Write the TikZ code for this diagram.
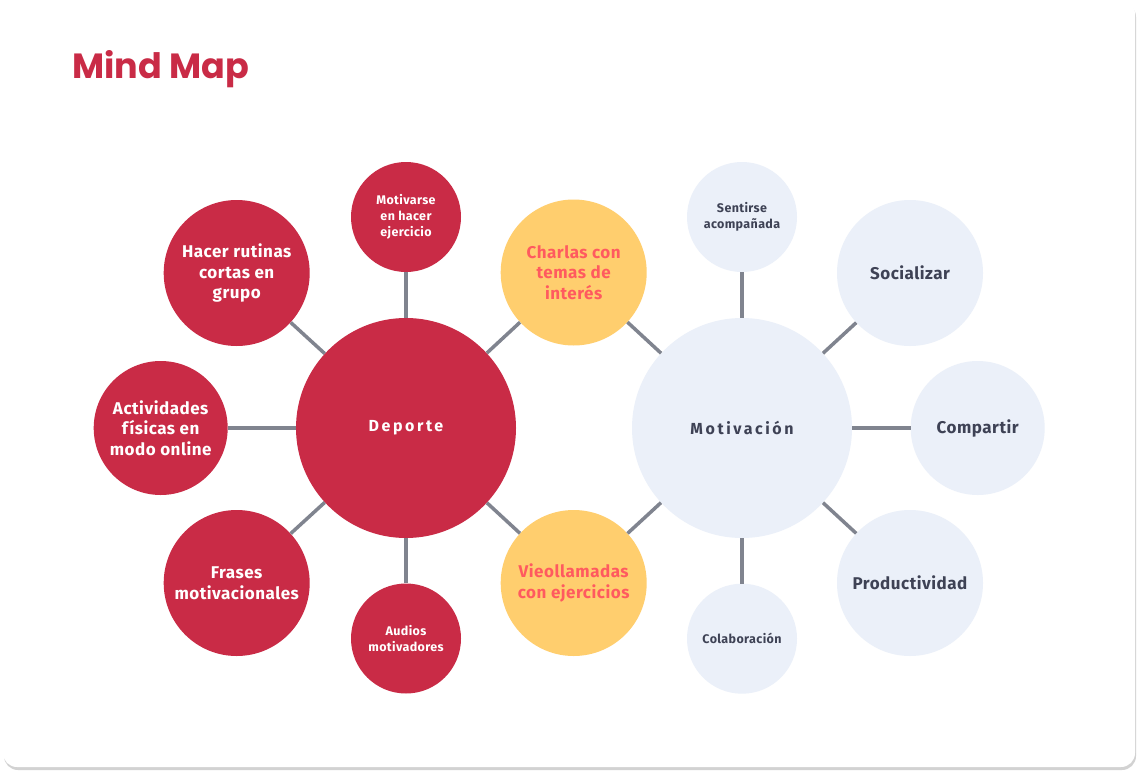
\documentclass[tikz,border=0pt]{standalone}
\usepackage{fontspec}
\setmainfont{Fira Sans}
\newfontfamily\titlefont{Poppins}
\usepackage{tikz}
\usetikzlibrary{positioning,shadows}

\definecolor{mapred}{HTML}{C92B46}
\definecolor{mapyellow}{HTML}{FFCE6E}
\definecolor{mapcoral}{HTML}{FF5A5F}
\definecolor{mapblue}{HTML}{EBF0F9}
\definecolor{mapink}{HTML}{3E4255}
\definecolor{mapline}{HTML}{80848F}

\tikzset{
  bubble/.style={circle,inner sep=0pt,align=center},
  redbub/.style={bubble,fill=mapred,text=white},
  yelbub/.style={bubble,fill=mapyellow,text=mapcoral},
  bluebub/.style={bubble,fill=mapblue,text=mapink},
  big/.style={minimum size=220pt,font=\bfseries\fontsize{16}{20}\selectfont\addfontfeatures{LetterSpace=16}},
  mid/.style={minimum size=146pt,font=\bfseries\fontsize{17}{20.5}\selectfont\addfontfeatures{LetterSpace=3}},
  side/.style={minimum size=134pt,font=\bfseries\fontsize{17}{20.5}\selectfont\addfontfeatures{LetterSpace=3}},
  small/.style={minimum size=110pt,font=\bfseries\fontsize{12.5}{16}\selectfont\addfontfeatures{LetterSpace=3}},
  link/.style={draw=mapline,line width=3.5pt},
}

\begin{document}
\begin{tikzpicture}[x=1pt,y=-1pt,on grid]
\useasboundingbox (0,0) rectangle (1139,776);
\fill[white] (0,0) rectangle (1139,776);
\fill[white,rounded corners=14pt,drop shadow={shadow xshift=1pt,shadow yshift=-3pt,opacity=.35}]
  (3,0) rectangle (1135,767);

% title
\node[anchor=base west,text=mapred,font=\titlefont\bfseries\fontsize{35}{40}\selectfont] (title) at (69,78) {Mind Map};

% hubs
\node[redbub,big] (dep) at (406,428) {Deporte};
\node[bluebub,big] (mot) [right=336pt of dep] {Motivación};

% Deporte side
\node[redbub,small] (mov) [above=211pt of dep] {Motivarse\\ en hacer\\ ejercicio};
\node[redbub,mid] (hac) [above left=155pt and 169.3pt of dep] {Hacer rutinas\\ cortas en\\ grupo};
\node[redbub,side] (act) [left=245.3pt of dep] {Actividades\\ físicas en\\ modo online};
\node[redbub,mid] (fra) [below left=155pt and 169.3pt of dep] {Frases\\ motivacionales};
\node[redbub,small] (aud) [below=210.5pt of dep] {Audios\\ motivadores};

% shared
\node[yelbub,mid] (cha) [above right=155.5pt and 167.7pt of dep] {Charlas con\\ temas de\\ interés};
\node[yelbub,mid] (vid) [below right=155pt and 167.7pt of dep] {Vieollamadas\\ con ejercicios};

% Motivacion side
\node[bluebub,small] (sen) [above=211pt of mot] {Sentirse\\ acompañada};
\node[bluebub,mid] (soc) [above right=155pt and 168pt of mot] {Socializar};
\node[bluebub,side] (com) [right=235.7pt of mot] {Compartir};
\node[bluebub,mid] (pro) [below right=155pt and 168pt of mot] {Productividad};
\node[bluebub,small] (col) [below=210.7pt of mot] {Colaboración};

\draw[link] (dep) -- (mov);
\draw[link] (dep) -- (hac);
\draw[link] (dep) -- (act);
\draw[link] (dep) -- (fra);
\draw[link] (dep) -- (aud);
\draw[link] (dep) -- (cha);
\draw[link] (dep) -- (vid);
\draw[link] (mot) -- (cha);
\draw[link] (mot) -- (vid);
\draw[link] (mot) -- (sen);
\draw[link] (mot) -- (soc);
\draw[link] (mot) -- (com);
\draw[link] (mot) -- (pro);
\draw[link] (mot) -- (col);
\end{tikzpicture}
\end{document}
